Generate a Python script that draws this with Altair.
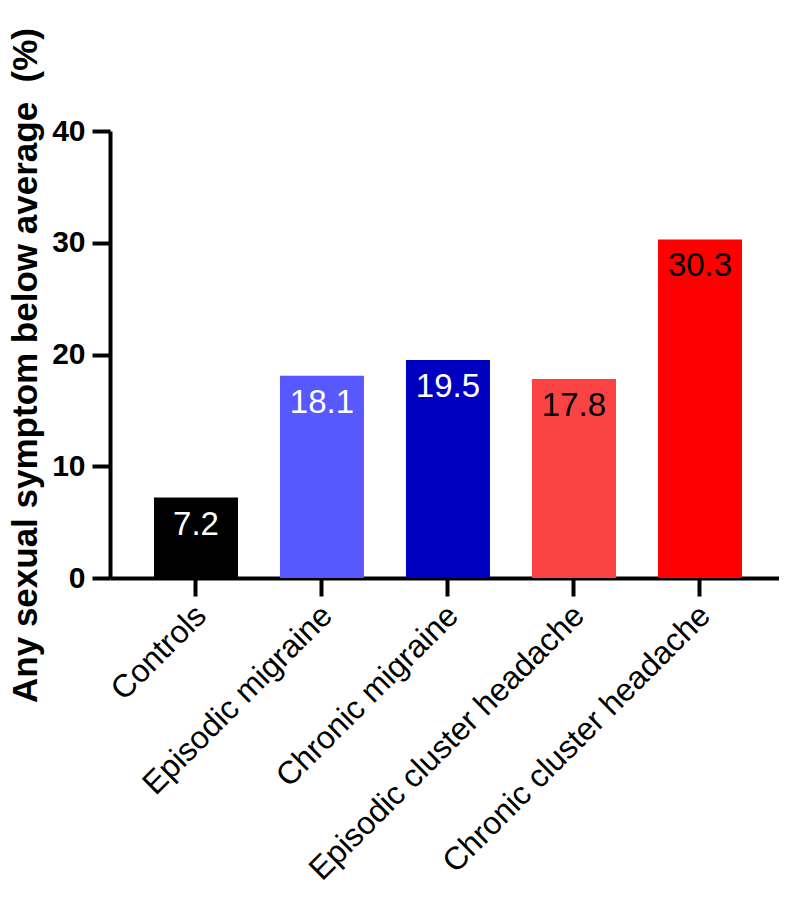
import altair as alt
import pandas as pd

categories = ["Controls", "Episodic migraine", "Chronic migraine",
              "Episodic cluster headache", "Chronic cluster headache"]
values = [7.2, 18.1, 19.5, 17.8, 30.3]
bar_colors = ["#000000", "#5858FF", "#0000C0", "#FA4444", "#FF0000"]
label_colors = ["#FFFFFF", "#FFFFFF", "#FFFFFF", "#000000", "#000000"]
y_ticks = [0, 10, 20, 30, 40]
y_title = "Any sexual symptom below average\u00a0 (%)"

df = pd.DataFrame({"category": categories, "value": values,
                   "label_color": label_colors})

FONT = "Liberation Sans"

x_scale = alt.Scale(paddingInner=1/3, paddingOuter=0.3214, align=0.543)
y_scale = alt.Scale(domain=[0, 40], nice=False)

x_axis = alt.Axis(title=None, labelAngle=-45, labelAlign="right",
                  labelBaseline="middle", labelFontSize=32,
                  labelFont=FONT, labelColor="black", labelLimit=1000,
                  labelPadding=14, labelOffset=5,
                  tickSize=18, tickWidth=4, tickColor="black",
                  domainWidth=4, domainColor="black")

y_axis = alt.Axis(title=y_title, values=y_ticks, grid=False,
                  titleFont=FONT, titleFontSize=35, titleFontWeight="bold",
                  titleColor="black", titleX=-74, titleY=234,
                  titleBaseline="alphabetic",
                  labelFont=FONT, labelFontSize=30, labelFontWeight="bold",
                  labelColor="black", labelPadding=7,
                  tickSize=18, tickWidth=4, tickColor="black",
                  domainWidth=4, domainColor="black")

x_enc = alt.X("category:N", sort=categories, scale=x_scale, axis=x_axis)
y_enc = alt.Y("value:Q", scale=y_scale, axis=y_axis)

bars = alt.Chart(df).mark_bar().encode(
    x=x_enc,
    y=y_enc,
    color=alt.Color("category:N", scale=alt.Scale(domain=categories, range=bar_colors),
                    legend=None),
)

labels = alt.Chart(df).mark_text(baseline="alphabetic", dy=37, fontSize=33,
                                 font=FONT).encode(
    x=x_enc,
    y=y_enc,
    text=alt.Text("value:Q", format=".1f"),
    color=alt.Color("label_color:N", scale=None),
)

chart = (bars + labels).properties(
    width=669, height=447,
    autosize=alt.AutoSizeParams(type="none"),
    padding={"left": 102, "top": 123, "right": 0, "bottom": 310},
).configure_view(stroke=None).configure_axis(tickSize=18)

chart.save("out.html", embed_options={"renderer": "svg", "actions": False})
